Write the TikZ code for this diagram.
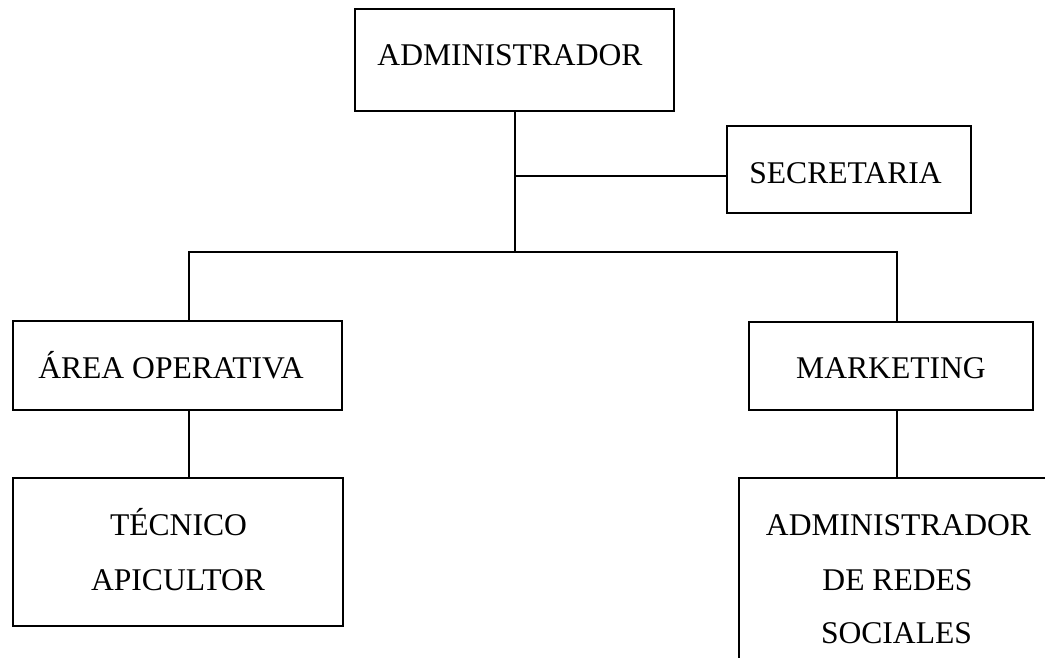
\documentclass[tikz,border=0pt]{standalone}
\usepackage{fontspec}
\setmainfont{Liberation Serif}
\begin{document}
\begin{tikzpicture}[x=1pt,y=-1pt,
  box/.style={draw=black,line width=1.6pt,rectangle,inner sep=0pt},
  txt/.style={inner sep=0pt,anchor=base,font=\fontsize{31.6}{38}\selectfont},
  conn/.style={draw=black,line width=1.6pt}]
\useasboundingbox (0,0) rectangle (1045,657);
\clip (0,0) rectangle (1045,657);
% boxes
\node[box,minimum width=319pt,minimum height=102pt] (adm) at (514.5,60) {};
\node[box,minimum width=244pt,minimum height=87pt] (sec) at (849,169.5) {};
\node[box,minimum width=329pt,minimum height=89pt] (area) at (177.5,365.5) {};
\node[box,minimum width=284pt,minimum height=88pt] (mkt) at (891,366) {};
\node[box,minimum width=330pt,minimum height=148pt] (tec) at (178,552) {};
\node[box,minimum width=321pt,minimum height=222pt] (red) at (899.5,589) {};
% texts
\node[txt] (tadm) at (510,65) {ADMINISTRADOR};
\node[txt] (tsec) at (845.5,183) {SECRETARIA};
\node[txt] (tarea) at (171,378) {ÁREA OPERATIVA};
\node[txt] (tmkt) at (891,378) {MARKETING};
\node[txt] (ttec1) at (178.5,535) {TÉCNICO};
\node[txt] (ttec2) at (178,590) {APICULTOR};
\node[txt] (tred1) at (898.5,535) {ADMINISTRADOR};
\node[txt] (tred2) at (897.5,590) {DE REDES};
\node[txt] (tred3) at (896.5,643) {SOCIALES};
% junctions
\coordinate (jm) at (515,252);
\coordinate (js) at (515,176);
\coordinate (jl) at (189,252);
\coordinate (jr) at (897,252);
% connectors
\draw[conn] (adm.south -| jm) -- (jm);
\draw[conn] (js) -- (sec.west |- js);
\draw[conn,line cap=rect] (jl) -- (jr);
\draw[conn] (jl) -- (area.north -| jl);
\draw[conn] (jr) -- (mkt.north -| jr);
\draw[conn] (area.south -| jl) -- (tec.north -| jl);
\draw[conn] (mkt.south -| jr) -- (red.north -| jr);
\end{tikzpicture}
\end{document}
